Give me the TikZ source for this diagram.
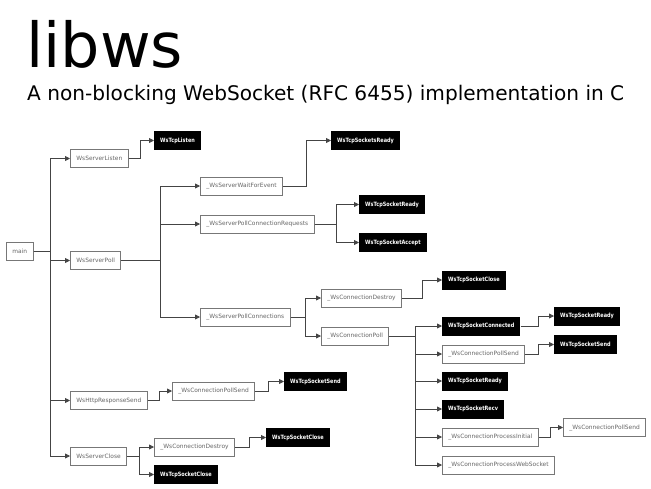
\documentclass[tikz,border=0pt]{standalone}
\usepackage{fontspec}
\setmainfont{DejaVu Sans}
\newfontfamily\condbold{DejaVu Sans}[FakeStretch=0.84]
\usetikzlibrary{arrows.meta}
\definecolor{boxline}{HTML}{777777}
\definecolor{boxtext}{HTML}{666666}
\definecolor{connc}{HTML}{444444}
\begin{document}
\begin{tikzpicture}[x=1pt,y=-1pt,
  fn/.style={draw=boxline, line width=0.8pt, fill=white, text=boxtext, font=\fontsize{5.9}{6}\selectfont, minimum height=18pt, inner xsep=6pt, inner ysep=0pt, anchor=west},
  ext/.style={fill=black, text=white, font=\condbold\bfseries\fontsize{5.9}{6}\selectfont, minimum height=19pt, inner xsep=6pt, inner ysep=0pt, anchor=west},
  link/.style={draw=connc, line width=0.8pt, -{Triangle[length=5pt,width=5pt]}},
  titletext/.style={anchor=base west, inner sep=0pt}
]
\fill[white] (0,0) rectangle (651,488);
\useasboundingbox (0,0) rectangle (651,488);

\node[titletext, font=\fontsize{62}{62}\selectfont] (title) at (26,67) {libws};
\node[titletext, font=\fontsize{20.1}{20}\selectfont] (subtitle) at (27,100) {A non-blocking WebSocket (RFC 6455) implementation in C};

\node[fn] (main) at (6,251.5) {main};
\node[fn] (listen) at (70,158.5) {WsServerListen};
\node[ext] (tcplisten) at (154,140.5) {WsTcpListen};
\node[fn] (poll) at (70,260.5) {WsServerPoll};
\node[fn] (wait) at (200,186) {\_WsServerWaitForEvent};
\node[ext] (socketsready) at (331,140.5) {WsTcpSocketsReady};
\node[fn] (pcr) at (200,224) {\_WsServerPollConnectionRequests};
\node[ext] (ready1) at (359,204.5) {WsTcpSocketReady};
\node[ext] (accept) at (359,242.5) {WsTcpSocketAccept};
\node[fn] (pconns) at (200,317) {\_WsServerPollConnections};
\node[fn] (destroy1) at (321,298) {\_WsConnectionDestroy};
\node[ext] (close1) at (442,280) {WsTcpSocketClose};
\node[fn] (cpoll) at (321,336) {\_WsConnectionPoll};
\node[ext] (connected) at (442,326) {WsTcpSocketConnected};
\node[ext] (ready2) at (554,316) {WsTcpSocketReady};
\node[fn] (psend1) at (442,354) {\_WsConnectionPollSend};
\node[ext] (send1) at (554,344.5) {WsTcpSocketSend};
\node[ext] (ready3) at (442,381) {WsTcpSocketReady};
\node[ext] (recv) at (442,409) {WsTcpSocketRecv};
\node[fn] (pinit) at (442,437) {\_WsConnectionProcessInitial};
\node[fn] (psend2) at (563,427.5) {\_WsConnectionPollSend};
\node[fn] (pws) at (442,465) {\_WsConnectionProcessWebSocket};
\node[fn] (http) at (70,400.5) {WsHttpResponseSend};
\node[fn] (psend3) at (172,391) {\_WsConnectionPollSend};
\node[ext] (send2) at (284,381.5) {WsTcpSocketSend};
\node[fn] (sclose) at (70,456) {WsServerClose};
\node[fn] (destroy2) at (154,447) {\_WsConnectionDestroy};
\node[ext] (close3) at (266,437.5) {WsTcpSocketClose};
\node[ext] (close2) at (154,474.5) {WsTcpSocketClose};

% main
\foreach \c in {listen,poll,http,sclose}
  \draw[link] (main.east) -| ([xshift=-20pt]\c.west) -- (\c.west);
\draw[link] (listen.east) -| ([xshift=-14pt]tcplisten.west) -- (tcplisten.west);
\foreach \c in {wait,pcr,pconns}
  \draw[link] (poll.east) -| ([xshift=-40pt]\c.west) -- (\c.west);
\draw[link] (wait.east) -| ([xshift=-25pt]socketsready.west) -- (socketsready.west);
\foreach \c in {ready1,accept}
  \draw[link] (pcr.east) -| ([xshift=-23pt]\c.west) -- (\c.west);
\foreach \c in {destroy1,cpoll}
  \draw[link] (pconns.east) -| ([xshift=-16pt]\c.west) -- (\c.west);
\draw[link] (destroy1.east) -| ([xshift=-20pt]close1.west) -- (close1.west);
\foreach \c in {connected,psend1,ready3,recv,pinit,pws}
  \draw[link] (cpoll.east) -| ([xshift=-27pt]\c.west) -- (\c.west);
\draw[link] (connected.east) -| ([xshift=-16pt]ready2.west) -- (ready2.west);
\draw[link] (psend1.east) -| ([xshift=-16pt]send1.west) -- (send1.west);
\draw[link] (pinit.east) -| ([xshift=-13pt]psend2.west) -- (psend2.west);
\draw[link] (http.east) -| ([xshift=-13pt]psend3.west) -- (psend3.west);
\draw[link] (psend3.east) -| ([xshift=-16pt]send2.west) -- (send2.west);
\foreach \c in {destroy2,close2}
  \draw[link] (sclose.east) -| ([xshift=-15pt]\c.west) -- (\c.west);
\draw[link] (destroy2.east) -| ([xshift=-17pt]close3.west) -- (close3.west);
\end{tikzpicture}
\end{document}
